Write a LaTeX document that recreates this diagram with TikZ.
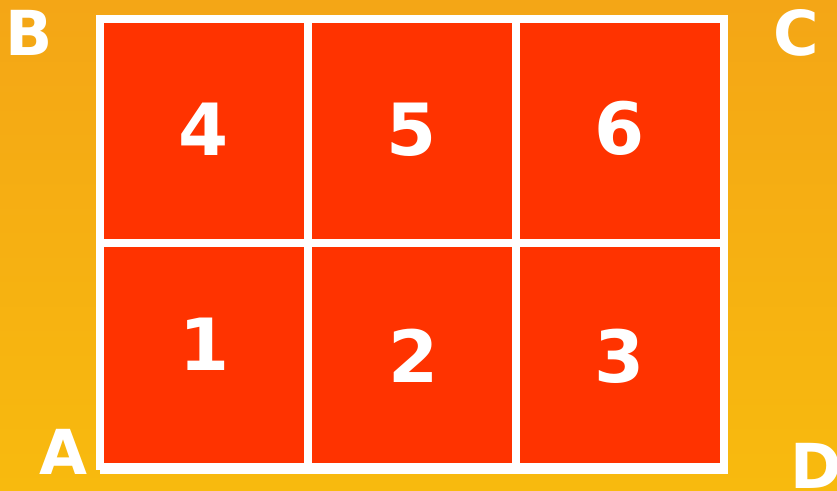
\documentclass[tikz,border=0pt]{standalone}
\usepackage{fontspec}
\setmainfont{DejaVu Sans}
\definecolor{bgtop}{HTML}{F4A616}
\definecolor{bgbot}{HTML}{F8BA0E}
\definecolor{cellred}{HTML}{FF3300}
\begin{document}
\begin{tikzpicture}[x=1pt,y=-1pt,
  cell/.style={fill=cellred},
  num/.style={anchor=base,inner sep=0pt,text=white,font=\bfseries\fontsize{72}{72}\selectfont},
  corner/.style={anchor=base,inner sep=0pt,text=white,font=\bfseries\fontsize{62}{62}\selectfont}]
\shade[top color=bgtop,bottom color=bgbot] (0,0) rectangle (837,490);
\useasboundingbox (0,0) rectangle (837,490);
% white frame
\fill[white] (96,15) rectangle (728,470);
\fill[white] (100,463) rectangle (728,474);
% cells
\fill[cell] (104,23) rectangle (304,239);
\fill[cell] (312,23) rectangle (512,239);
\fill[cell] (520,23) rectangle (720,239);
\fill[cell] (104,247) rectangle (304,463);
\fill[cell] (312,247) rectangle (512,463);
\fill[cell] (520,247) rectangle (720,463);
% numbers
\node[num] (n4) at (203.5,155) {4};
\node[num] (n5) at (411.5,155) {5};
\node[num] (n6) at (620,154) {6};
\node[num] (n1) at (205,370) {1};
\node[num] (n2) at (413.5,382) {2};
\node[num] (n3) at (620,382) {3};
% corners
\node[corner] (B) at (29.5,55) {B};
\node[corner] (C) at (796,55) {C};
\node[corner] (A) at (63.5,474) {A};
\node[corner] (D) at (816,488) {D};
\end{tikzpicture}
\end{document}
